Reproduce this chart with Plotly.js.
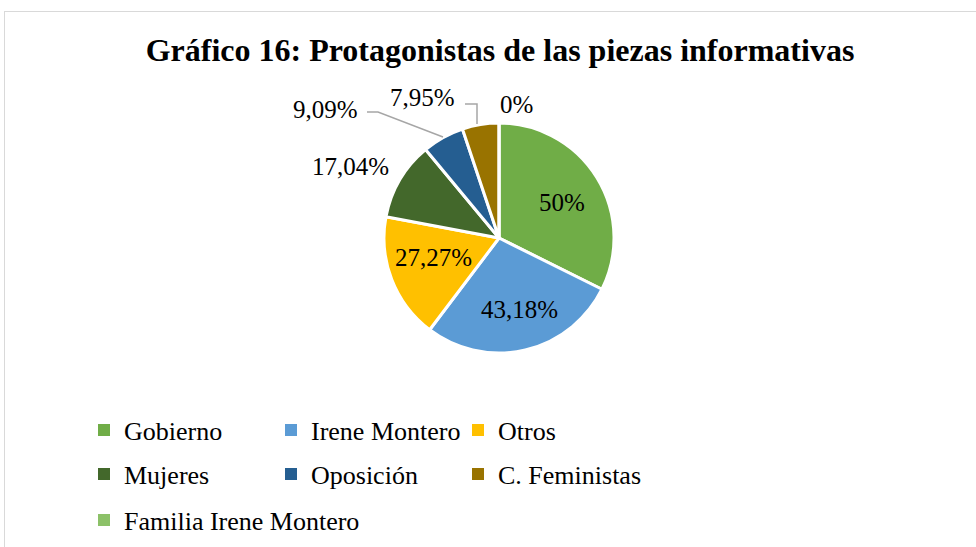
<!DOCTYPE html>
<html>
<head>
<meta charset="utf-8">
<script src="https://cdn.plot.ly/plotly-3.0.1.min.js"></script>
<style>
  html, body { margin: 0; padding: 0; background: #fff; overflow: hidden; width: 976px; height: 547px; }
  #chart { position: absolute; left: 4px; top: 11px; width: 990px; height: 560px; border: 1px solid #d9d9d9; }
</style>
</head>
<body>
<div id="chart"></div>
<script>
// ---- data ----
const categories = ["Gobierno", "Irene Montero", "Otros", "Mujeres", "Oposición", "C. Feministas", "Familia Irene Montero"];
const values = [50, 43.18, 27.27, 17.04, 9.09, 7.95, 0];
const valueLabels = ["50%", "43,18%", "27,27%", "17,04%", "9,09%", "7,95%", "0%"];
const colors = ["#70AD47", "#5B9BD5", "#FFC000", "#43682B", "#255E91", "#997300", "#8CC168"];
const legendRows = [[0, 1, 2], [3, 4, 5], [6]];

// ---- layout helpers (page pixel -> paper) ----
const W = 990, H = 560, OX = 5, OY = 12;
const px = x => (x - OX) / W;
const py = y => 1 - (y - OY) / H;
const font = "Liberation Serif, Times New Roman, serif";

// label centres (page px), in the same order as categories
const labelPos = [[562, 202], [519, 309], [433, 257], [350, 166], [325, 109], [422, 97], [516, 105]];
// leader lines (page px) for the small slices
const leaderLines = [
  [[367, 112], [378, 112], [443, 137]],
  [[465, 104], [477, 104], [477, 124]]
];

const traces = [{
  type: "pie",
  labels: categories,
  values: values,
  text: valueLabels,
  textinfo: "none",
  textposition: "none",
  sort: false,
  direction: "clockwise",
  rotation: 0,
  marker: { colors: colors, line: { color: "#ffffff", width: 3 } },
  domain: { x: [px(384), px(614)], y: [py(353), py(123)] },
  showlegend: false,
  hoverinfo: "label+text"
}];

// legend rows (one legend per row, entries taken from the same data arrays)
const legendNames = ["legend", "legend2", "legend3"];
legendRows.forEach((row, i) => {
  traces.push({
    type: "pie",
    labels: row.map(j => categories[j]),
    values: row.map(() => 1),
    marker: { colors: row.map(j => colors[j]) },
    textinfo: "none",
    sort: false,
    hoverinfo: "skip",
    domain: { x: [0, 0.0001], y: [0, 0.0001] },
    legend: legendNames[i],
    showlegend: true
  });
});

const rowY = [py(430), py(474), py(520)];
function legendCfg(y, withWidth) {
  const c = {
    orientation: "h",
    x: px(84),
    xanchor: "left",
    y: y,
    yanchor: "middle",
    bgcolor: "rgba(0,0,0,0)",
    font: { family: font, size: 26, color: "#000000" },
    itemclick: false,
    itemdoubleclick: false
  };
  if (withWidth) { c.entrywidth = 142; c.entrywidthmode = "pixels"; }
  return c;
}

const annotations = valueLabels.map((t, i) => ({
  text: t,
  xref: "paper", yref: "paper",
  x: px(labelPos[i][0]), y: py(labelPos[i][1]),
  xanchor: "center", yanchor: "middle",
  showarrow: false,
  font: { family: font, size: 25, color: "#000000" }
}));

const shapes = leaderLines.map(pts => ({
  type: "path",
  xref: "paper", yref: "paper",
  path: pts.map((p, k) => (k ? "L" : "M") + px(p[0]) + "," + py(p[1])).join(" "),
  line: { color: "#a6a6a6", width: 1.5 },
  fillcolor: "rgba(0,0,0,0)"
}));

const layout = {
  width: W,
  height: H,
  margin: { l: 0, r: 0, t: 0, b: 0 },
  paper_bgcolor: "#ffffff",
  plot_bgcolor: "#ffffff",
  font: { family: font, color: "#000000" },
  title: {
    text: "<b>Gráfico 16: Protagonistas de las piezas informativas</b>",
    font: { family: font, size: 32, color: "#000000" },
    x: px(500),
    xanchor: "center",
    y: py(50),
    yanchor: "middle"
  },
  annotations: annotations,
  shapes: shapes,
  legend: legendCfg(rowY[0], true),
  legend2: legendCfg(rowY[1], true),
  legend3: legendCfg(rowY[2], false)
};

Plotly.newPlot("chart", traces, layout, { displayModeBar: false });
</script>
</body>
</html>
